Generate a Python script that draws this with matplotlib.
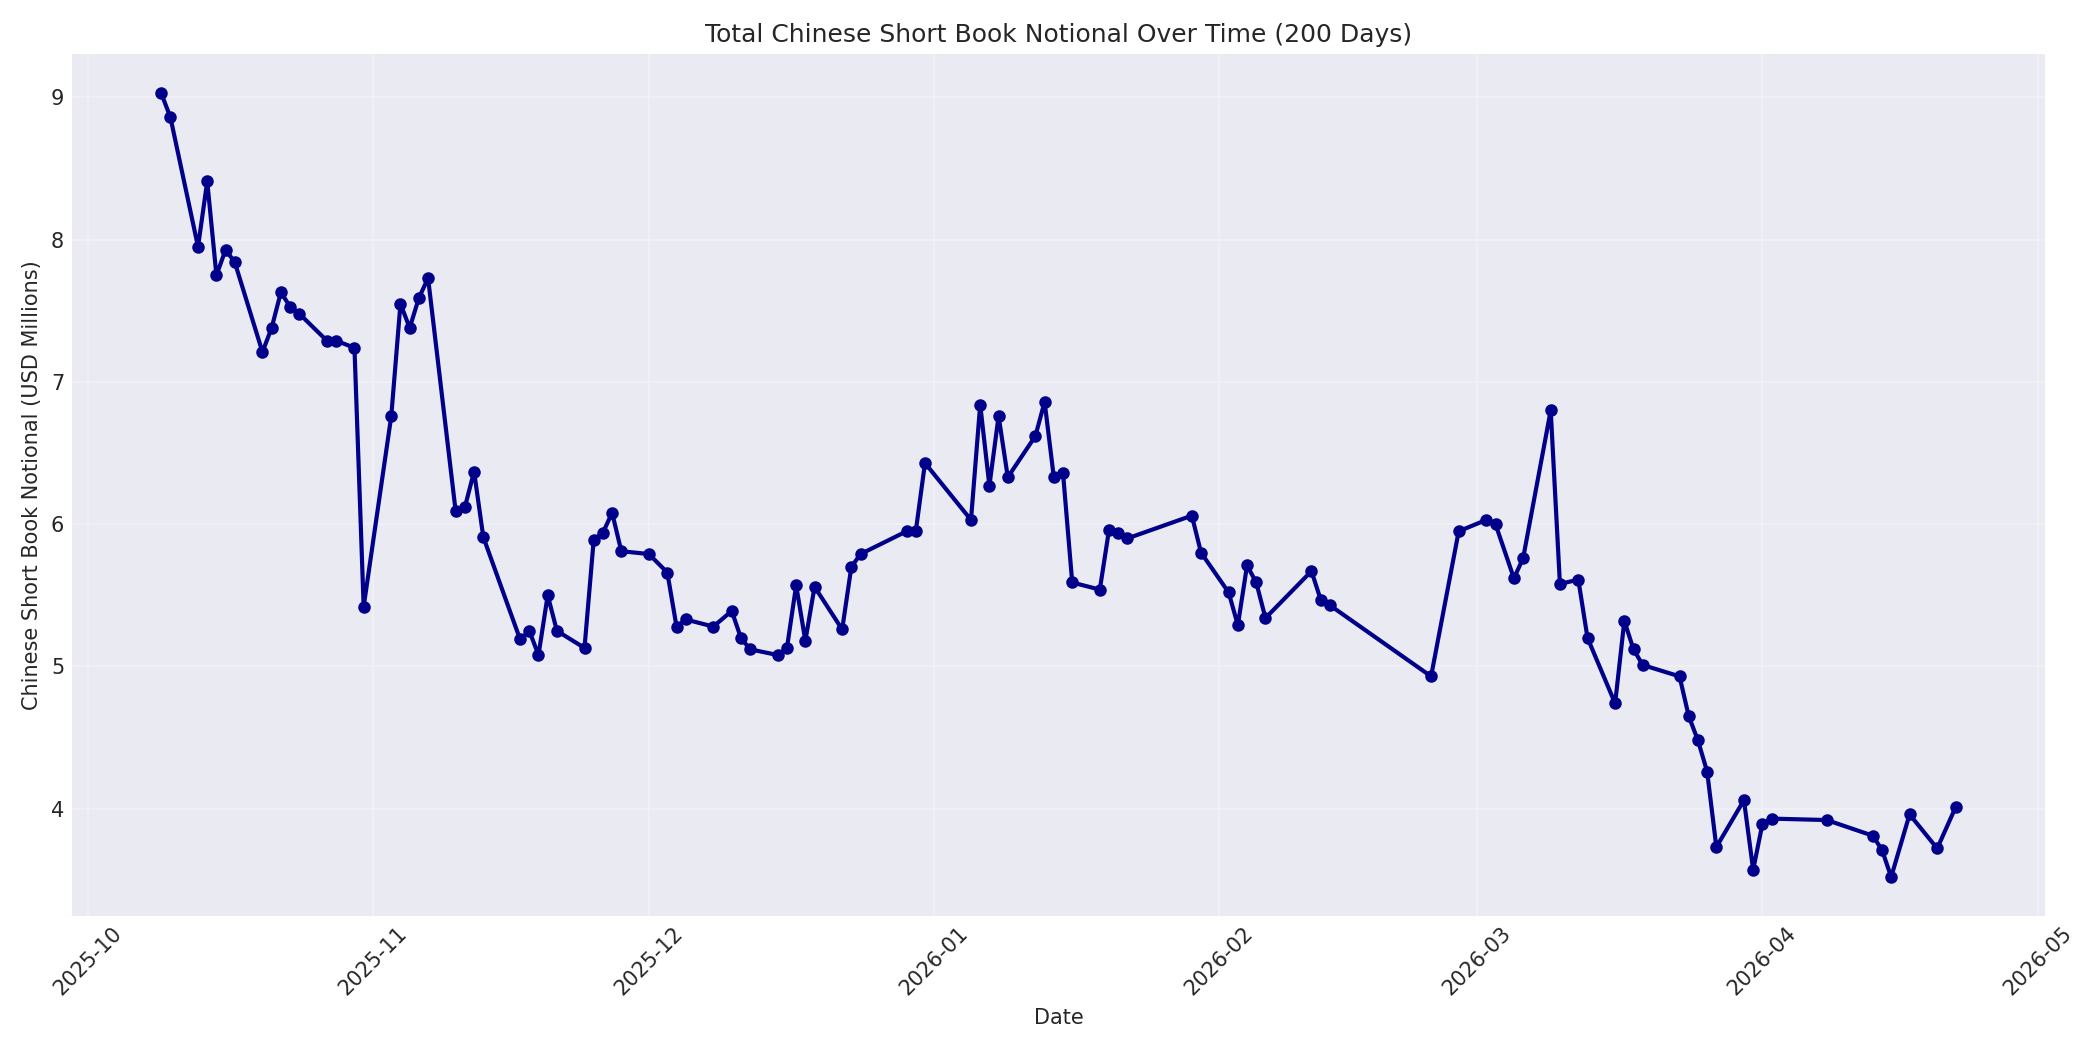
import pandas as pd
import matplotlib
matplotlib.use("Agg")
import matplotlib.pyplot as plt

# Daily total notional of the Chinese short book (USD millions)
dates = [
    "2025-10-09", "2025-10-10", "2025-10-13", "2025-10-14", "2025-10-15", "2025-10-16", "2025-10-17",
    "2025-10-20", "2025-10-21", "2025-10-22", "2025-10-23", "2025-10-24", "2025-10-27", "2025-10-28",
    "2025-10-30", "2025-10-31", "2025-11-03", "2025-11-04", "2025-11-05", "2025-11-06", "2025-11-07",
    "2025-11-10", "2025-11-11", "2025-11-12", "2025-11-13", "2025-11-17", "2025-11-18", "2025-11-19",
    "2025-11-20", "2025-11-21", "2025-11-24", "2025-11-25", "2025-11-26", "2025-11-27", "2025-11-28",
    "2025-12-01", "2025-12-03", "2025-12-04", "2025-12-05", "2025-12-08", "2025-12-10", "2025-12-11",
    "2025-12-12", "2025-12-15", "2025-12-16", "2025-12-17", "2025-12-18", "2025-12-19", "2025-12-22",
    "2025-12-23", "2025-12-24", "2025-12-29", "2025-12-30", "2025-12-31", "2026-01-05", "2026-01-06",
    "2026-01-07", "2026-01-08", "2026-01-09", "2026-01-12", "2026-01-13", "2026-01-14", "2026-01-15",
    "2026-01-16", "2026-01-19", "2026-01-20", "2026-01-21", "2026-01-22", "2026-01-29", "2026-01-30",
    "2026-02-02", "2026-02-03", "2026-02-04", "2026-02-05", "2026-02-06", "2026-02-11", "2026-02-12",
    "2026-02-13", "2026-02-24", "2026-02-27", "2026-03-02", "2026-03-03", "2026-03-05", "2026-03-06",
    "2026-03-09", "2026-03-10", "2026-03-12", "2026-03-13", "2026-03-16", "2026-03-17", "2026-03-18",
    "2026-03-19", "2026-03-23", "2026-03-24", "2026-03-25", "2026-03-26", "2026-03-27", "2026-03-30",
    "2026-03-31", "2026-04-01", "2026-04-02", "2026-04-08", "2026-04-13", "2026-04-14", "2026-04-15",
    "2026-04-17", "2026-04-20", "2026-04-22",
]

notional = [
    9.03, 8.86, 7.95, 8.41, 7.75, 7.93, 7.84,
    7.21, 7.38, 7.63, 7.53, 7.48, 7.29, 7.29,
    7.24, 5.42, 6.76, 7.55, 7.38, 7.59, 7.73,
    6.09, 6.12, 6.37, 5.91, 5.19, 5.25, 5.08,
    5.50, 5.25, 5.13, 5.89, 5.94, 6.08, 5.81,
    5.79, 5.66, 5.28, 5.33, 5.28, 5.39, 5.20,
    5.12, 5.08, 5.13, 5.57, 5.18, 5.56, 5.26,
    5.70, 5.79, 5.95, 5.95, 6.43, 6.03, 6.84,
    6.27, 6.76, 6.33, 6.62, 6.86, 6.33, 6.36,
    5.59, 5.54, 5.96, 5.94, 5.90, 6.06, 5.80,
    5.52, 5.29, 5.71, 5.59, 5.34, 5.67, 5.47,
    5.43, 4.93, 5.95, 6.03, 6.00, 5.62, 5.76,
    6.80, 5.58, 5.61, 5.20, 4.74, 5.32, 5.12,
    5.01, 4.93, 4.65, 4.48, 4.26, 3.73, 4.06,
    3.57, 3.89, 3.93, 3.92, 3.81, 3.71, 3.52,
    3.96, 3.72, 4.01,
]

df = pd.DataFrame({"date": pd.to_datetime(dates), "notional": notional})

plt.style.use("seaborn-v0_8-darkgrid")
plt.rcParams["font.family"] = ["DejaVu Sans"]
fig, ax = plt.subplots(figsize=(14, 7), dpi=150)

ax.plot(df["date"], df["notional"], color="darkblue", linewidth=2, marker="o", markersize=5)

ax.set_title("Total Chinese Short Book Notional Over Time (200 Days)", fontsize=12)
ax.set_xlabel("Date")
ax.set_ylabel("Chinese Short Book Notional (USD Millions)")
ax.grid(True, alpha=0.3)
plt.xticks(rotation=45)

plt.tight_layout()
plt.savefig("out.png", dpi=150)
plt.close()
